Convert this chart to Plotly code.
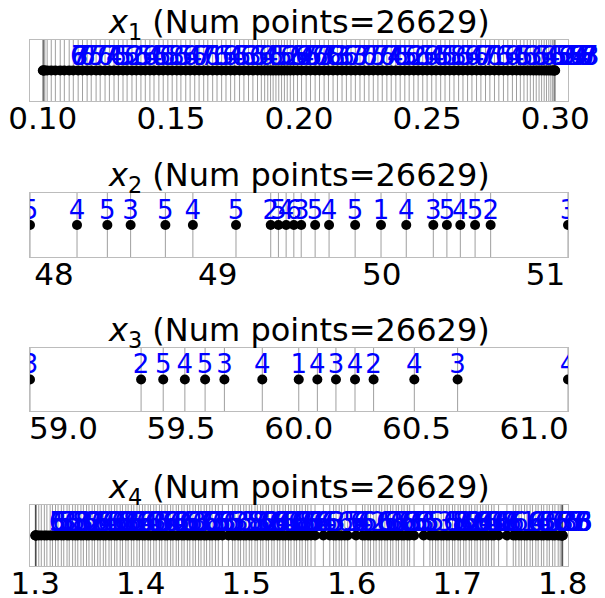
import plotly.graph_objects as go

# ---------------------------------------------------------------- data
X1_VALUES = [
    0.1000, 0.1002, 0.1004, 0.1008, 0.1017, 0.1033, 0.1049, 0.1068, 0.1084, 0.1103,
    0.1119, 0.1138, 0.1155, 0.1173, 0.1189, 0.1208, 0.1224, 0.1243, 0.1260, 0.1278,
    0.1295, 0.1313, 0.1329, 0.1348, 0.1365, 0.1383, 0.1400, 0.1418, 0.1434, 0.1453,
    0.1470, 0.1488, 0.1505, 0.1523, 0.1539, 0.1558, 0.1575, 0.1593, 0.1610, 0.1628,
    0.1644, 0.1663, 0.1680, 0.1698, 0.1715, 0.1733, 0.1749, 0.1768, 0.1785, 0.1803,
    0.1820, 0.1838, 0.1853, 0.1866, 0.1878, 0.1889, 0.1899, 0.1910, 0.1921, 0.1932,
    0.1943, 0.1954, 0.1966, 0.1979, 0.1994, 0.2010, 0.2028, 0.2045, 0.2063, 0.2080,
    0.2098, 0.2115, 0.2133, 0.2150, 0.2168, 0.2185, 0.2203, 0.2220, 0.2238, 0.2255,
    0.2273, 0.2290, 0.2308, 0.2325, 0.2343, 0.2360, 0.2378, 0.2395, 0.2413, 0.2430,
    0.2448, 0.2465, 0.2483, 0.2500, 0.2518, 0.2535, 0.2553, 0.2570, 0.2588, 0.2605,
    0.2623, 0.2640, 0.2658, 0.2675, 0.2693, 0.2710, 0.2728, 0.2745, 0.2763, 0.2780,
    0.2798, 0.2815, 0.2833, 0.2849, 0.2864, 0.2878, 0.2891, 0.2903, 0.2915, 0.2926,
    0.2937, 0.2947, 0.2957, 0.2966, 0.2975, 0.2983, 0.2990, 0.2995, 0.2998, 0.3000,
]
X1_COUNTS = [
    6, 6, 7, 3, 7, 6, 7, 5, 7, 6,
    7, 4, 6, 5, 5, 6, 2, 6, 5, 6,
    4, 6, 5, 6, 5, 8, 6, 5, 6, 4,
    6, 7, 7, 6, 1, 6, 5, 6, 4, 6,
    5, 6, 3, 6, 5, 6, 4, 6, 5, 5,
    6, 2, 6, 5, 6, 4, 7, 6, 5, 7,
    6, 7, 3, 7, 6, 8, 3, 6, 6, 7,
    3, 7, 6, 7, 5, 7, 6, 7, 4, 6,
    5, 5, 6, 2, 6, 5, 6, 4, 6, 5,
    6, 5, 8, 6, 5, 6, 4, 6, 7, 7,
    6, 1, 6, 5, 6, 4, 6, 5, 6, 3,
    6, 5, 6, 4, 6, 5, 5, 6, 2, 6,
    5, 6, 4, 7, 6, 5, 7, 6, 7, 3,
]

X2_VALUES = [
    47.854, 48.141, 48.326, 48.468, 48.680, 48.848, 49.111, 49.323, 49.370, 49.417,
    49.464, 49.509, 49.594, 49.679, 49.838, 49.996, 50.150, 50.315, 50.398, 50.480,
    50.570, 50.665, 51.137,
]
X2_COUNTS = [5, 4, 5, 3, 5, 4, 5, 2, 5, 4, 6, 3, 5, 4, 5, 1, 4, 3, 5, 4, 5, 2, 3]

X3_VALUES = [
    58.858, 59.330, 59.424, 59.516, 59.602, 59.684, 59.845, 60.000, 60.079, 60.158,
    60.239, 60.318, 60.491, 60.675, 61.144,
]
X3_COUNTS = [3, 2, 5, 4, 5, 3, 4, 1, 4, 3, 4, 2, 4, 3, 4]

X4_VALUES = [
    1.3000, 1.3002, 1.3005, 1.3010, 1.3033, 1.3057, 1.3086, 1.3110, 1.3141, 1.3163,
    1.3192, 1.3216, 1.3247, 1.3270, 1.3301, 1.3322, 1.3354, 1.3379, 1.3403, 1.3433,
    1.3456, 1.3486, 1.3509, 1.3539, 1.3562, 1.3592, 1.3615, 1.3645, 1.3668, 1.3699,
    1.3721, 1.3752, 1.3774, 1.3805, 1.3827, 1.3858, 1.3880, 1.3911, 1.3934, 1.3964,
    1.3987, 1.4017, 1.4040, 1.4070, 1.4093, 1.4123, 1.4146, 1.4177, 1.4199, 1.4230,
    1.4252, 1.4283, 1.4305, 1.4336, 1.4358, 1.4389, 1.4411, 1.4442, 1.4465, 1.4495,
    1.4518, 1.4548, 1.4571, 1.4601, 1.4624, 1.4654, 1.4677, 1.4708, 1.4735, 1.4774,
    1.4831, 1.4870, 1.4893, 1.4923, 1.4946, 1.4976, 1.4999, 1.5029, 1.5052, 1.5083,
    1.5105, 1.5136, 1.5158, 1.5189, 1.5211, 1.5242, 1.5264, 1.5295, 1.5318, 1.5348,
    1.5371, 1.5401, 1.5424, 1.5454, 1.5477, 1.5507, 1.5530, 1.5561, 1.5583, 1.5614,
    1.5652, 1.5731, 1.5792, 1.5828, 1.5851, 1.5881, 1.5904, 1.5934, 1.5961, 1.6041,
    1.6102, 1.6125, 1.6155, 1.6178, 1.6208, 1.6231, 1.6261, 1.6284, 1.6314, 1.6337,
    1.6368, 1.6390, 1.6421, 1.6443, 1.6474, 1.6496, 1.6527, 1.6549, 1.6591, 1.6682,
    1.6741, 1.6766, 1.6795, 1.6818, 1.6848, 1.6871, 1.6901, 1.6924, 1.6955, 1.6977,
    1.7008, 1.7030, 1.7061, 1.7083, 1.7114, 1.7136, 1.7167, 1.7189, 1.7220, 1.7243,
    1.7273, 1.7296, 1.7326, 1.7349, 1.7392, 1.7471, 1.7531, 1.7555, 1.7585, 1.7608,
    1.7638, 1.7661, 1.7691, 1.7714, 1.7745, 1.7767, 1.7798, 1.7820, 1.7851, 1.7873,
    1.7904, 1.7926, 1.7957, 1.7976, 1.7989, 1.7995, 1.7999, 1.8000,
]
X4_COUNTS = [
    6, 5, 6, 3, 6, 5, 5, 3, 6, 5,
    5, 8, 8, 3, 6, 6, 2, 2, 6, 6,
    6, 4, 6, 6, 3, 6, 6, 6, 8, 8,
    6, 6, 6, 1, 6, 6, 4, 6, 6, 3,
    6, 5, 5, 6, 6, 4, 6, 6, 2, 6,
    6, 5, 6, 3, 6, 5, 7, 6, 6, 8,
    3, 6, 5, 6, 3, 6, 5, 5, 3, 6,
    5, 5, 8, 8, 3, 6, 6, 2, 2, 6,
    6, 6, 4, 6, 6, 3, 6, 6, 6, 8,
    8, 6, 6, 6, 1, 6, 6, 4, 6, 6,
    3, 6, 5, 5, 6, 6, 4, 6, 6, 2,
    6, 6, 5, 6, 3, 6, 5, 7, 6, 6,
    8, 3, 6, 5, 6, 3, 6, 5, 5, 3,
    6, 5, 5, 8, 8, 3, 6, 6, 2, 2,
    6, 6, 6, 4, 6, 6, 3, 6, 6, 6,
    8, 8, 6, 6, 6, 1, 6, 6, 4, 6,
    6, 3, 6, 5, 7, 6, 6, 8, 3, 6,
    5, 5, 7, 6, 8, 3, 6, 3,
]

NUM_POINTS = 26629

X1_TICKS = [0.10, 0.15, 0.20, 0.25, 0.30]
X2_TICKS = [48, 49, 50, 51]
X3_TICKS = [59.0, 59.5, 60.0, 60.5, 61.0]
X4_TICKS = [1.3, 1.4, 1.5, 1.6, 1.7, 1.8]

# ---------------------------------------------------------------- layout
W, H = 605, 598
BOX_LEFT, BOX_RIGHT = 30, 568
ROW_BOXES = [(40, 101), (193, 257), (348, 411), (505, 566)]
FONT = "DejaVu Sans"
LABEL_SIZE = 26

panels = [
    dict(idx=1, values=X1_VALUES, counts=X1_COUNTS, pad=0.025, shift_px=36,
         ticks=X1_TICKS, fmt=".2f", clip_text=False),
    dict(idx=2, values=X2_VALUES, counts=X2_COUNTS, pad=0.0, shift_px=0,
         ticks=X2_TICKS, fmt="d", clip_text=True),
    dict(idx=3, values=X3_VALUES, counts=X3_COUNTS, pad=0.0, shift_px=0,
         ticks=X3_TICKS, fmt=".1f", clip_text=True),
    dict(idx=4, values=X4_VALUES, counts=X4_COUNTS, pad=0.01, shift_px=22,
         ticks=X4_TICKS, fmt=".1f", clip_text=False),
]

fig = go.Figure()
layout = dict(
    width=W, height=H,
    margin=dict(l=0, r=0, t=0, b=0, autoexpand=False),
    paper_bgcolor="white", plot_bgcolor="white",
    showlegend=False,
    font=dict(family=FONT, color="black"),
    annotations=[],
)

x_dom = [BOX_LEFT / W, BOX_RIGHT / W]

for p, (top, bottom) in zip(panels, ROW_BOXES):
    i = p["idx"]
    xa = "x" if i == 1 else f"x{i}"
    ya = "y" if i == 1 else f"y{i}"
    vals, counts = p["values"], p["counts"]
    lo, hi = min(vals), max(vals)
    span = hi - lo
    x_range = [lo - p["pad"] * span, hi + p["pad"] * span]

    # one vertical rule per distinct value
    lx, ly = [], []
    for v in vals:
        lx += [v, v, None]
        ly += [-1, 1, None]
    fig.add_trace(go.Scatter(
        x=lx, y=ly, xaxis=xa, yaxis=ya, mode="lines",
        line=dict(color="rgba(0,0,0,0.38)", width=1), hoverinfo="skip",
    ))

    # dots on the centre line
    fig.add_trace(go.Scatter(
        x=vals, y=[0] * len(vals), xaxis=xa, yaxis=ya, mode="markers",
        marker=dict(color="black", size=10, line=dict(width=0)),
        cliponaxis=True, hoverinfo="skip",
    ))

    # count labels above each dot
    if p["clip_text"]:
        fig.add_trace(go.Scatter(
            x=vals, y=[0] * len(vals), xaxis=xa, yaxis=ya, mode="text",
            text=[str(c) for c in counts], textposition="top center",
            textfont=dict(family=FONT, size=LABEL_SIZE, color="blue"),
            cliponaxis=True, hoverinfo="skip",
        ))
    else:
        for v, c in zip(vals, counts):
            layout["annotations"].append(dict(
                x=v, y=0, xref=xa, yref=ya, xanchor="center", yanchor="bottom",
                xshift=p["shift_px"], yshift=-3, showarrow=False, text=str(c),
                font=dict(family=FONT, size=LABEL_SIZE, color="blue"),
            ))

    y_dom = [1 - bottom / H, 1 - top / H]
    axis_key = "xaxis" if i == 1 else f"xaxis{i}"
    yaxis_key = "yaxis" if i == 1 else f"yaxis{i}"
    layout[axis_key] = dict(
        domain=x_dom, anchor=ya, range=x_range, automargin=False,
        tickvals=p["ticks"], tickformat=p["fmt"],
        tickfont=dict(family=FONT, size=31, color="black"),
        ticklabelstandoff=-10,
        showgrid=False, zeroline=False, ticks="",
        showline=True, mirror=True, linecolor="#bcbcbc", linewidth=1,
    )
    layout[yaxis_key] = dict(
        domain=y_dom, anchor=xa, range=[-1, 1], automargin=False,
        showticklabels=False, showgrid=False, zeroline=False, ticks="",
        showline=True, mirror=True, linecolor="#bcbcbc", linewidth=1,
    )
    layout["annotations"].append(dict(
        xref="paper", yref="paper", x=(x_dom[0] + x_dom[1]) / 2, y=y_dom[1],
        xanchor="center", yanchor="bottom", yshift=-7, showarrow=False,
        text=f"<i>x</i><sub>{i}</sub> (Num points={NUM_POINTS})",
        font=dict(family=FONT, size=32, color="black"),
    ))

fig.update_layout(**layout)
fig.write_html("out.html")
